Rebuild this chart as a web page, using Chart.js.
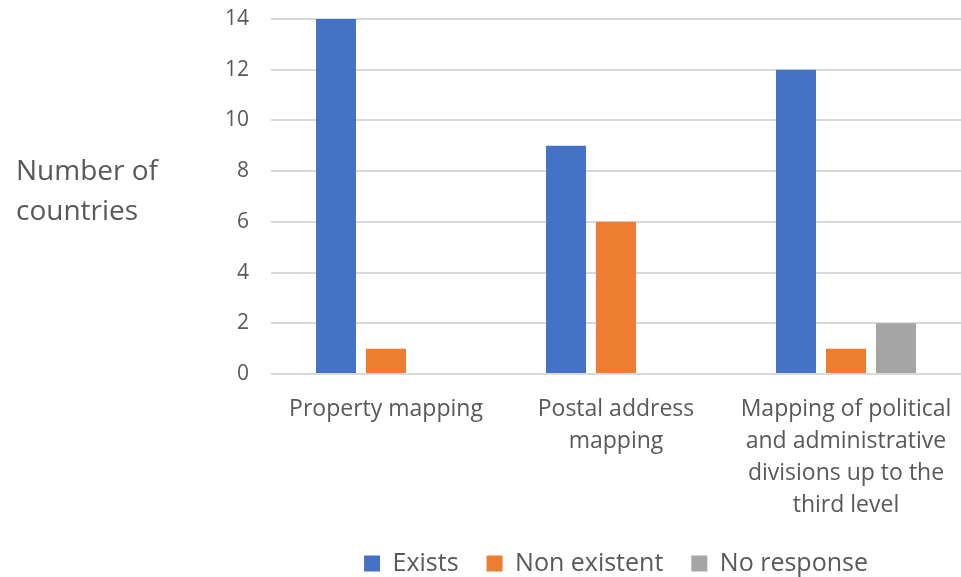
<!DOCTYPE html>
<html>
<head>
<meta charset="utf-8">
<script src="https://cdn.jsdelivr.net/npm/chart.js@4.4.0/dist/chart.umd.min.js"></script>
<style>
  body { margin: 0; background: #fff; }
  #wrap { width: 961px; height: 577px; position: relative; }
</style>
</head>
<body>
<div id="wrap"><canvas id="chart" width="961" height="577"></canvas></div>
<script>
// categories (multi-line labels as in the original)
const categories = [
    ["Property mapping"],
    ["Postal address", "mapping"],
    ["Mapping of political", "and administrative", "divisions up to the", "third level"]
];
const existsValues = [14, 9, 12];
const nonExistentValues = [1, 6, 1];
const noResponseValues = [0, 0, 2];
const seriesNames = ["Exists", "Non existent", "No response"];
const yTicks = [0, 2, 4, 6, 8, 10, 12, 14];

const FONT = "'Open Sans', 'Noto Sans', sans-serif";
const TEXT = '#595959';

// y axis title is horizontal on the left, so draw it by hand
const yTitlePlugin = {
    id: 'yTitle',
    afterDraw(chart) {
        const c = chart.ctx;
        c.save();
        c.fillStyle = TEXT;
        c.font = "28px " + FONT;
        c.textAlign = 'left';
        c.textBaseline = 'middle';
        c.fillText("Number of", 16, 172);
        c.fillText("countries", 16, 212);
        c.restore();
    }
};

const ctx = document.getElementById("chart");
new Chart(ctx, {
    type: 'bar',
    data: {
        labels: categories,
        datasets: [{
            label: seriesNames[0],
            data: existsValues,
            backgroundColor: '#4472C4'
        }, {
            label: seriesNames[1],
            data: nonExistentValues,
            backgroundColor: '#ED7D31'
        }, {
            label: seriesNames[2],
            data: noResponseValues,
            backgroundColor: '#A5A5A5'
        }]
    },
    options: {
        responsive: false,
        animation: false,
        datasets: {
            bar: { barPercentage: 0.8, categoryPercentage: 0.652 }
        },
        layout: { padding: { top: 19, right: -14, bottom: -9, left: 0 } },
        plugins: {
            legend: {
                position: 'bottom',
                fullSize: false,
                labels: {
                    color: TEXT,
                    font: { family: FONT, size: 25 },
                    boxWidth: 16,
                    boxHeight: 16,
                    padding: 28
                }
            },
            tooltip: { enabled: false }
        },
        scales: {
            x: {
                grid: { display: false, drawTicks: false },
                border: { display: false },
                ticks: {
                    color: TEXT,
                    font: { family: FONT, size: 23, lineHeight: 1.4 },
                    maxRotation: 0,
                    autoSkip: false,
                    padding: 19
                },
                afterFit(scale) {
                    scale.height = 149;
                    scale.paddingLeft = 0;
                    scale.paddingRight = 0;
                }
            },
            y: {
                min: 0,
                max: 14,
                afterBuildTicks(scale) { scale.ticks = yTicks.map(v => ({ value: v })); },
                grid: { color: '#D9D9D9', lineWidth: 2, drawTicks: false },
                border: { display: false },
                ticks: {
                    color: TEXT,
                    font: { family: FONT, size: 21 },
                    padding: 22
                },
                afterFit(scale) {
                    scale.width = 271;
                    scale.paddingTop = 0;
                    scale.paddingBottom = 0;
                }
            }
        }
    },
    plugins: [yTitlePlugin]
});
</script>
</body>
</html>
